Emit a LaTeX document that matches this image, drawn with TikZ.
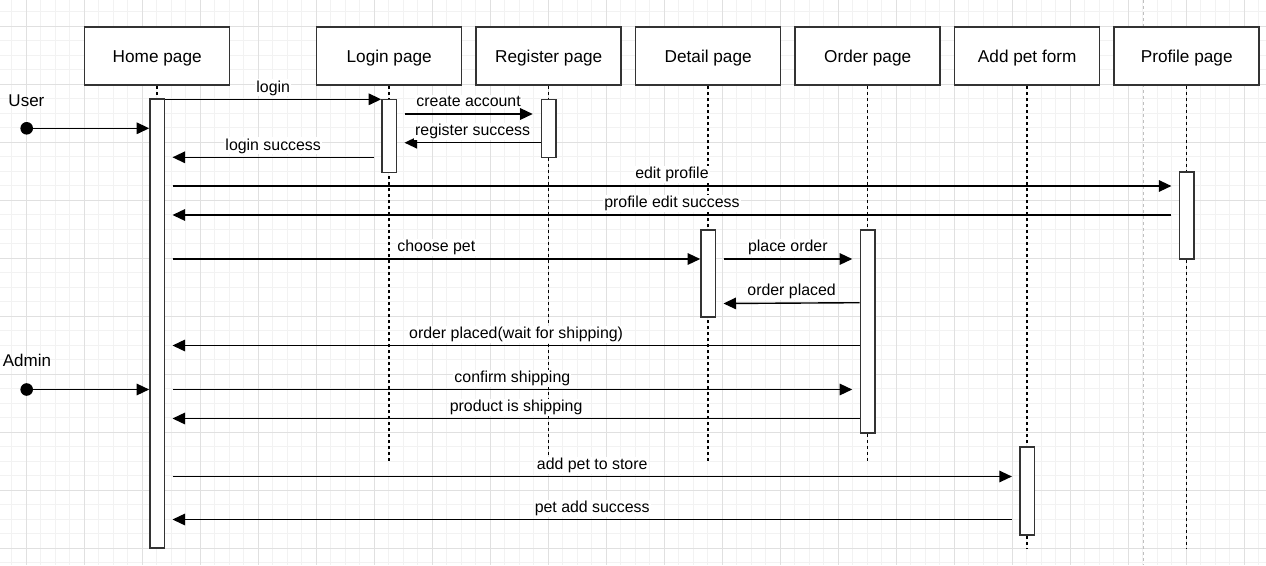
\documentclass[tikz,border=0pt]{standalone}
\usepackage{fontspec}
\setmainfont{Liberation Sans}
\usetikzlibrary{arrows.meta}
\tikzset{
  hdr/.style={draw=black!80, line width=1.5pt, fill=white, minimum width=145pt, minimum height=58pt, inner sep=0pt, text height=13pt, text depth=0pt, font=\fontsize{17.2}{20}\selectfont},
  bar/.style={draw=black!80, line width=1.5pt, fill=white, minimum width=14.5pt, inner sep=0pt},
  life/.style={line width=1.5pt, dash pattern=on 3pt off 3pt},
  msg/.style={line width=1.4pt, -{Triangle[length=12.5pt,width=11.5pt]}},
  lbl/.style={midway, anchor=base, yshift=7.3pt, inner sep=1pt, fill=white, font=\fontsize{15.9}{18}\selectfont},
  actor/.style={font=\fontsize{17}{20}\selectfont, inner sep=0pt, anchor=base west},
  dotn/.style={circle, fill=black, minimum size=12.6pt, inner sep=0pt},
  gridminor/.style={line width=1pt, black!5},
  gridmajor/.style={line width=1pt, black!12},
}
\begin{document}
\begin{tikzpicture}[x=1pt, y=-1pt]
\useasboundingbox (0,0) rectangle (1266,565);
\fill[white] (0,0) rectangle (1266,565);
% grid
\begin{scope}
\clip (0,0) rectangle (1266,565);
\foreach \x in {11.8,26.3,...,1266} \draw[gridminor] (\x,0) -- (\x,565);
\foreach \y in {11.5,26,...,565} \draw[gridminor] (0,\y) -- (1266,\y);
\foreach \x in {26.3,84.3,...,1266} \draw[gridmajor] (\x,0) -- (\x,565);
\foreach \y in {26,84,...,565} \draw[gridmajor] (0,\y) -- (1266,\y);
\draw[line width=1pt, black!25, dash pattern=on 3pt off 3pt] (1143.3,0) -- (1143.3,565);
\end{scope}
% headers
\node[hdr] (home) at (157.2,56) {Home page};
\node[hdr] (login) at (389.2,56) {Login page};
\node[hdr] (reg) at (548.7,56) {Register page};
\node[hdr] (det) at (708.2,56) {Detail page};
\node[hdr] (ord) at (867.7,56) {Order page};
\node[hdr] (add) at (1027.2,56) {Add pet form};
\node[hdr] (prof) at (1186.7,56) {Profile page};
% lifelines
\draw[life] (home.south) -- (home.south |- 0,99);
\draw[life] (login.south) -- (login.south |- 0,462);
\draw[life] (reg.south) -- (reg.south |- 0,462);
\draw[life] (det.south) -- (det.south |- 0,462);
\draw[life] (ord.south) -- (ord.south |- 0,462);
\draw[life] (add.south) -- (add.south |- 0,548);
\draw[life] (prof.south) -- (prof.south |- 0,548);
% activation bars
\node[bar, minimum height=449pt] (hb) at (157.2,323.6) {};
\node[bar, minimum height=73pt] (lb) at (389.2,135.8) {};
\node[bar, minimum height=58.4pt] (rb) at (548.7,128.5) {};
\node[bar, minimum height=87pt] (pb) at (1186.7,215.4) {};
\node[bar, minimum height=87pt] (db) at (708.2,273.7) {};
\node[bar, minimum height=203pt] (ob) at (867.7,331.4) {};
\node[bar, minimum height=88pt] (ab) at (1027.2,491.2) {};
% helper coordinates (gaps next to bars)
\coordinate (hR) at ([xshift=7.3pt]hb.east);
\coordinate (lR) at ([xshift=7.3pt]lb.east);
\coordinate (lL) at ([xshift=-7.3pt]lb.west);
\coordinate (rL) at ([xshift=-8pt]rb.west);
\coordinate (dR) at ([xshift=7.3pt]db.east);
\coordinate (oL) at ([xshift=-7.5pt]ob.west);
\coordinate (aL) at ([xshift=-7.3pt]ab.west);
\coordinate (pL) at ([xshift=-7.3pt]pb.west);
% actors
\node[dotn] (udot) at (26.7,128.3) {};
\node[dotn] (adot) at (26.7,389.5) {};
\node[actor] (user) at (8.3,106) {User};
\node[actor] (admin) at (2.7,366.5) {Admin};
\draw[msg] (udot) -- (hb.west |- udot);
\draw[msg] (adot) -- (hb.west |- adot);
% messages
\draw[msg] (hb.east |- 0,99.3) -- (lb.west |- 0,99.3) node[lbl] {login};
\draw[msg] (lR |- 0,114) -- (rL |- 0,114) node[lbl] {create account};
\draw[msg] (rb.west |- 0,142.7) -- (lR |- 0,142.7) node[lbl] {register success};
\draw[msg] (lL |- 0,157.3) -- (hR |- 0,157.3) node[lbl] {login success};
\draw[msg] (hR |- 0,186) -- (pL |- 0,186) node[lbl] {edit profile};
\draw[msg] (pL |- 0,215) -- (hR |- 0,215) node[lbl] {profile edit success};
\draw[msg] (hR |- 0,259) -- (db.west |- 0,259) node[lbl] {choose pet};
\draw[msg] (dR |- 0,259) -- (oL |- 0,259) node[lbl] {place order};
\draw[msg] (ob.west |- 0,302.7) -- (dR |- 0,303.5) node[lbl] {order placed};
\draw[msg] (ob.west |- 0,345.5) -- (hR |- 0,345.5) node[lbl] {order placed(wait for shipping)};
\draw[msg] (hR |- 0,389.5) -- (oL |- 0,389.5) node[lbl] {confirm shipping};
\draw[msg] (ob.west |- 0,418.5) -- (hR |- 0,418.5) node[lbl] {product is shipping};
\draw[msg] (hR |- 0,476.5) -- (aL |- 0,476.5) node[lbl] {add pet to store};
\draw[msg] (aL |- 0,519.5) -- (hR |- 0,519.5) node[lbl] {pet add success};
\end{tikzpicture}
\end{document}
